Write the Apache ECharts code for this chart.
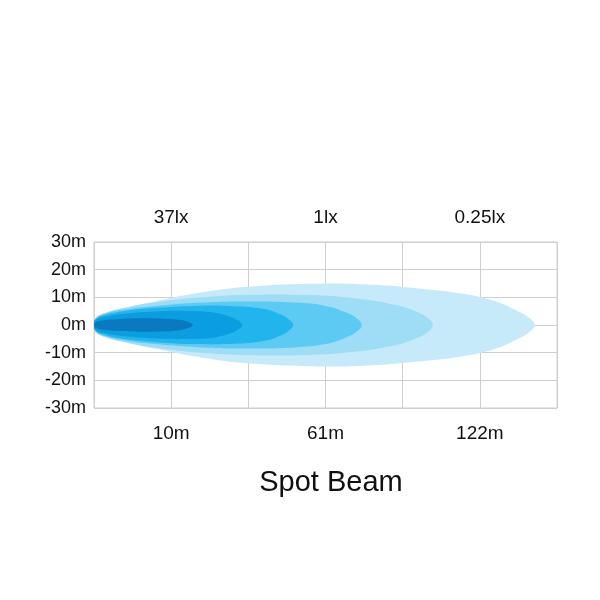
<!DOCTYPE html>
<html>
<head>
<meta charset="utf-8">
<script src="https://cdn.jsdelivr.net/npm/echarts@6/dist/echarts.min.js"></script>
<style>
html,body{margin:0;padding:0;background:#fff;}
#chart{width:600px;height:600px;}
</style>
</head>
<body>
<div id="chart"></div>
<script>
// Bottom distance labels at grid columns 0..6
const bottomLabels = ['', '10m', '', '61m', '', '122m', ''];
// Top illuminance labels at grid columns 0..6
const topLabels = ['', '37lx', '', '1lx', '', '0.25lx', ''];
// Vertical spread ticks (m)
const yMin = -30, yMax = 30, yStep = 10;
const titleText = 'Spot Beam';

// Lobe half-width profiles [distance (grid units), half-width (m)], outer -> inner
const lobe025lx = [[0,0],[0.02,2.6],[0.1,3.9],[0.4,6.2],[0.8,8.6],[1.4,11.8],[2.0,13.8],[2.8,14.9],[3.5,14.7],[4.2,13.2],[4.8,11.2],[5.2,8.6],[5.45,5.6],[5.63,2.8],[5.71,0]];
const lobe05lx  = [[0,0],[0.02,2.4],[0.15,4.4],[0.4,6.2],[0.8,8.2],[1.4,10.0],[2.0,10.9],[2.8,10.8],[3.4,9.6],[3.9,7.3],[4.18,4.8],[4.33,2.4],[4.39,0]];
const lobe1lx   = [[0,0],[0.02,2.3],[0.15,4.1],[0.4,5.6],[0.8,6.9],[1.4,8.1],[2.0,8.5],[2.6,8.1],[3.0,6.9],[3.26,4.6],[3.41,2.3],[3.47,0]];
const lobe5lx   = [[0,0],[0.02,2.1],[0.15,3.7],[0.4,5.1],[0.8,6.2],[1.3,6.9],[1.8,6.8],[2.2,5.8],[2.42,3.8],[2.53,1.9],[2.58,0]];
const lobe10lx  = [[0,0],[0.02,1.8],[0.15,3.0],[0.4,4.1],[0.8,4.9],[1.2,5.1],[1.5,4.7],[1.72,3.4],[1.86,1.7],[1.92,0]];
const lobe37lx  = [[0,0],[0.02,1.0],[0.1,1.6],[0.3,2.1],[0.6,2.4],[0.9,2.3],[1.1,1.9],[1.21,1.2],[1.28,0]];

const lobes = [lobe025lx, lobe05lx, lobe1lx, lobe5lx, lobe10lx, lobe37lx];
const lobeColors = ['#c7eafa', '#9fdcf6', '#5ccaf3', '#22b4ed', '#0a9ddf', '#0a79c0'];

const series = lobes.map((pts, i) => ({
  type: 'custom',
  silent: true,
  z: 2 + i,
  clip: true,
  data: pts,
  encode: { x: 0, y: 1 },
  renderItem: function (params, api) {
    if (params.dataIndex !== 0) return null;
    const upper = pts.map(p => api.coord([p[0], p[1]]));
    const lower = pts.slice(1, pts.length - 1).reverse().map(p => api.coord([p[0], -p[1]]));
    return {
      type: 'polygon',
      shape: { points: upper.concat(lower), smooth: 0.45 },
      style: { fill: lobeColors[i], stroke: null }
    };
  }
}));

const chart = echarts.init(document.getElementById('chart'), null, { renderer: 'canvas' });
const gridColor = '#cfcfcf';
chart.setOption({
  backgroundColor: '#ffffff',
  animation: false,
  title: {
    text: titleText,
    left: 326,
    top: 463,
    textAlign: 'center',
    textStyle: { fontFamily: 'Liberation Sans', fontSize: 29, fontWeight: 'normal', color: '#111' }
  },
  grid: { left: 94, right: 43, top: 242, bottom: 192, show: true, borderColor: gridColor, borderWidth: 1, backgroundColor: 'transparent' },
  xAxis: [{
    type: 'value', position: 'bottom', min: 0, max: 6, interval: 1,
    axisLine: { show: false }, axisTick: { show: false },
    splitLine: { show: true, lineStyle: { color: gridColor, width: 1 } },
    axisLabel: { margin: 16, fontFamily: 'Liberation Sans', fontSize: 19, color: '#111',
      formatter: v => bottomLabels[Math.round(v)] || '' }
  }, {
    type: 'value', position: 'top', min: 0, max: 6, interval: 1,
    axisLine: { show: false }, axisTick: { show: false }, splitLine: { show: false },
    axisLabel: { margin: 15, fontFamily: 'Liberation Sans', fontSize: 19, color: '#111',
      formatter: v => topLabels[Math.round(v)] || '' }
  }],
  yAxis: {
    type: 'value', min: yMin, max: yMax, interval: yStep,
    axisLine: { show: false }, axisTick: { show: false },
    splitLine: { show: true, lineStyle: { color: gridColor, width: 1 } },
    axisLabel: { margin: 8, fontFamily: 'Liberation Sans', fontSize: 18, color: '#111',
      formatter: v => v + 'm' }
  },
  series: series
});
</script>
</body>
</html>
